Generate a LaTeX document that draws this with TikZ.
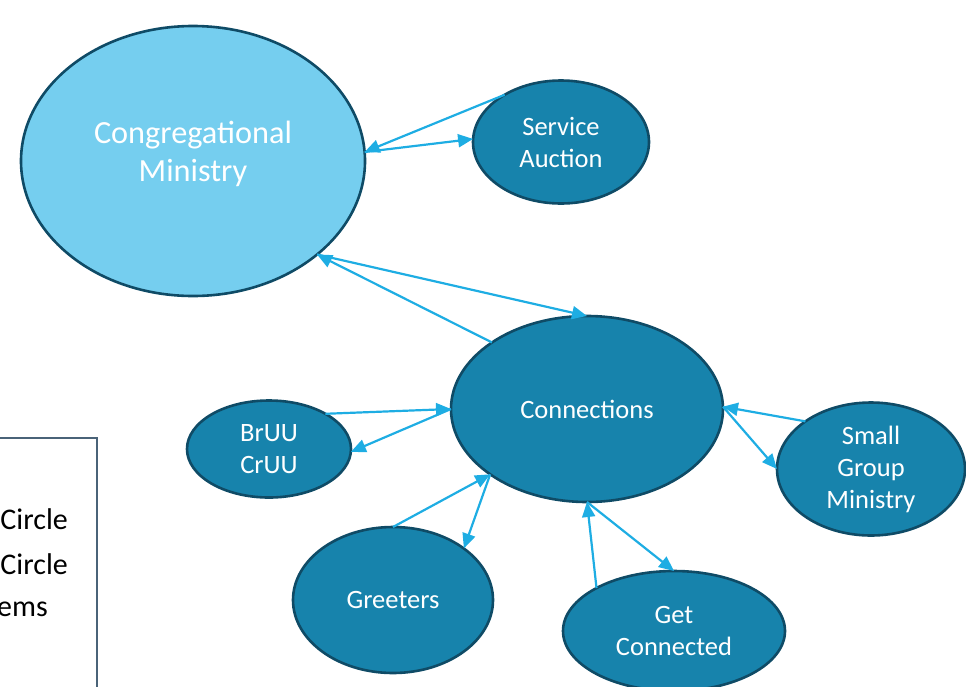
\documentclass[tikz,border=0pt]{standalone}
\usepackage{fontspec}
\setmainfont{Carlito}
\usetikzlibrary{shapes.geometric,arrows.meta}
\definecolor{lightc}{HTML}{75CEEF}
\definecolor{darkc}{HTML}{1783AC}
\definecolor{edgec}{HTML}{0F4B66}
\definecolor{arrowc}{HTML}{1EADE3}
\definecolor{boxc}{HTML}{4A6378}
\begin{document}
\begin{tikzpicture}[x=1pt,y=-1pt,
  nd/.style={ellipse, draw=edgec, line width=2.6pt, fill=darkc, text=white,
    inner sep=0pt, outer sep=0pt, align=center,
    font=\fontsize{26.5}{32}\selectfont},
  link/.style={draw=arrowc, line width=2.2pt,
    -{Triangle[length=15pt,width=13pt]}},
  boxtext/.style={anchor=base east, inner sep=0pt, text=black,
    font=\fontsize{30}{36}\selectfont}]
\useasboundingbox (0,0) rectangle (966,686);
% left partial box
\draw[boxc, line width=1.4pt] (-20,438) -- (97,438) -- (97,700);
\node[boxtext] (l1) at (68,529) {Circle};
\node[boxtext] (l2) at (68,574) {Circle};
\node[boxtext] (l3) at (48,616) {ems};
% nodes
\node[nd, fill=lightc, minimum width=344pt, minimum height=270pt,
  font=\fontsize{32.3}{38}\selectfont, text depth=20pt] (cm) at (193,161) {Congregational\\Ministry};
\node[nd, minimum width=176pt, minimum height=123pt] (sa) at (561,142) {Service\\Auction};
\node[nd, minimum width=272pt, minimum height=186pt] (co) at (587,409) {Connections};
\node[nd, minimum width=164pt, minimum height=97pt] (br) at (269,449) {BrUU\\CrUU};
\node[nd, minimum width=188pt, minimum height=133pt] (sg) at (871,469) {Small\\Group\\Ministry};
\node[nd, minimum width=200pt, minimum height=146pt] (gr) at (393,600) {Greeters};
\node[nd, minimum width=222pt, minimum height=120pt] (gc) at (674,631) {Get\\Connected};
% connectors
\draw[link] (sa.140) -- (cm.3);
\draw[link] (cm.3) -- (sa.178);
\draw[link] (co.145) -- (cm.-37);
\draw[link] (cm.-37) -- (co.90);
\draw[link] (br.32) -- (co.180);
\draw[link] (co.180) -- (br.-2);
\draw[link] (sg.144) -- (co.1);
\draw[link] (co.1) -- (sg.180);
\draw[link] (gr.90) -- (co.214);
\draw[link] (co.214) -- (gr.36);
\draw[link] (gc.151) -- (co.270);
\draw[link] (co.270) -- (gc.90);
\end{tikzpicture}
\end{document}
